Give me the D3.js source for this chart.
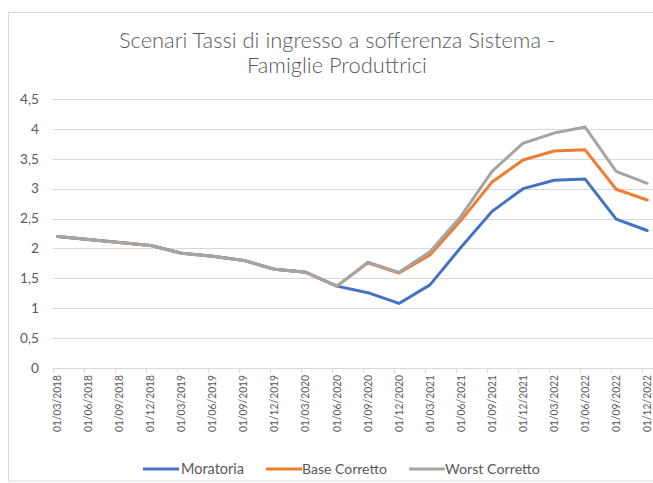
<!DOCTYPE html>
<html>
<head>
<meta charset="utf-8">
<script src="https://cdn.jsdelivr.net/npm/d3@7/dist/d3.min.js"></script>
<style>
  html, body { margin: 0; padding: 0; background: #fff; }
  svg { display: block; }
  text { font-family: Lato, "Open Sans", "Liberation Sans", sans-serif; fill: #595959; }
</style>
</head>
<body>
<svg id="chart" width="653" height="483"></svg>
<script>
const categories = ["01/03/2018","01/06/2018","01/09/2018","01/12/2018","01/03/2019","01/06/2019","01/09/2019","01/12/2019","01/03/2020","01/06/2020","01/09/2020","01/12/2020","01/03/2021","01/06/2021","01/09/2021","01/12/2021","01/03/2022","01/06/2022","01/09/2022","01/12/2022"];
const moratoria     = [2.20,2.15,2.10,2.05,1.92,1.87,1.80,1.65,1.60,1.37,1.26,1.08,1.39,2.02,2.62,3.00,3.14,3.16,2.49,2.30];
const baseCorretto  = [2.20,2.15,2.10,2.05,1.92,1.87,1.80,1.65,1.60,1.37,1.76,1.59,1.89,2.47,3.11,3.48,3.63,3.65,2.99,2.81];
const worstCorretto = [2.20,2.15,2.10,2.05,1.92,1.87,1.80,1.65,1.60,1.37,1.77,1.60,1.945,2.54,3.29,3.76,3.93,4.03,3.29,3.09];
const yTicks = [0,0.5,1,1.5,2,2.5,3,3.5,4,4.5];
const seriesNames = ["Moratoria","Base Corretto","Worst Corretto"];
const seriesColors = ["#4472C4","#ED7D31","#A5A5A5"];
const titleLines = ["Scenari Tassi di ingresso a sofferenza Sistema -","Famiglie Produttrici"];

const series = [moratoria, baseCorretto, worstCorretto];
const svg = d3.select("#chart");

// fit a text to a target width by adjusting font size
function fit(sel, target, base) {
  sel.style("font-size", base + "px");
  const w = sel.node().getComputedTextLength();
  const fs = base * target / w;
  sel.style("font-size", fs.toFixed(2) + "px");
  return fs;
}

// chart border
svg.append("rect").attr("x", 8.5).attr("y", 12.5).attr("width", 700).attr("height", 468.5)
  .attr("fill", "none").attr("stroke", "#d9d9d9").attr("stroke-width", 1);

const plotLeft = 52.7, plotRight = 653;
const x = d3.scaleLinear().domain([0, categories.length - 1]).range([57.6, 647.2]);
const y = d3.scaleLinear().domain([0, 4.5]).range([368, 99]);

// gridlines
svg.append("g").selectAll("line").data(yTicks.filter(d => d > 0)).join("line")
  .attr("x1", plotLeft).attr("x2", plotRight)
  .attr("y1", d => Math.round(y(d)) + 0.5).attr("y2", d => Math.round(y(d)) + 0.5)
  .attr("stroke", "#d9d9d9").attr("stroke-width", 1);

// y axis labels
const fmt = d => String(d).replace(".", ",");
const yl = svg.append("g").selectAll("text").data(yTicks).join("text")
  .attr("x", 39).attr("y", d => y(d)).attr("dy", "0.35em")
  .attr("text-anchor", "end").text(fmt);
const yfs = fit(yl.filter(d => d === 4.5), 19, 12);
yl.style("font-size", yfs.toFixed(2) + "px");

// x axis line and ticks
svg.append("line").attr("x1", plotLeft).attr("x2", plotRight)
  .attr("y1", 368.5).attr("y2", 368.5).attr("stroke", "#d9d9d9").attr("stroke-width", 1);
const tickX = i => Math.round(x(i) - 5) + 0.5;
svg.append("g").selectAll("line").data(categories).join("line")
  .attr("x1", (d, i) => tickX(i)).attr("x2", (d, i) => tickX(i))
  .attr("y1", 368).attr("y2", 373).attr("stroke", "#d9d9d9").attr("stroke-width", 1);

// x labels rotated, condensed horizontally to match narrow digits
const xl = svg.append("g").selectAll("text").data(categories).join("text")
  .attr("text-anchor", "end")
  .attr("dominant-baseline", "central")
  .style("font-size", "12px")
  .text(d => d);
const xw = xl.node().getComputedTextLength();
const sx = 57 / xw;
xl.attr("transform", (d, i) => `translate(${x(i) - 1.2},${375}) rotate(-90) scale(${sx.toFixed(3)},1)`);

// lines
const line = d3.line().x((d, i) => x(i)).y(d => y(d));
svg.append("g").selectAll("path").data(series).join("path")
  .attr("d", d => line(d))
  .attr("fill", "none")
  .attr("stroke", (d, i) => seriesColors[i])
  .attr("stroke-width", 3)
  .attr("stroke-linejoin", "round")
  .attr("stroke-linecap", "round");

// title
const t1 = svg.append("text").attr("x", 337).attr("y", 48).attr("text-anchor", "middle")
  .style("font-weight", 300).text(titleLines[0]);
const tfs = fit(t1, 436, 18);
svg.append("text").attr("x", 337).attr("y", 73).attr("text-anchor", "middle")
  .style("font-weight", 300).style("font-size", tfs.toFixed(2) + "px").text(titleLines[1]);

// legend
const legendItems = [
  {lx: 143, tx: 181, tw: 63},
  {lx: 266, tx: 302, tw: 85},
  {lx: 409, tx: 445, tw: 95}
];
const lg = svg.append("g");
seriesNames.forEach((name, i) => {
  const it = legendItems[i];
  lg.append("line").attr("x1", it.lx).attr("x2", it.lx + 36).attr("y1", 469).attr("y2", 469)
    .attr("stroke", seriesColors[i]).attr("stroke-width", 3);
  const t = lg.append("text").attr("x", it.tx).attr("y", 469).attr("dy", "0.35em").text(name);
  fit(t, it.tw, 13);
});
</script>
</body>
</html>
